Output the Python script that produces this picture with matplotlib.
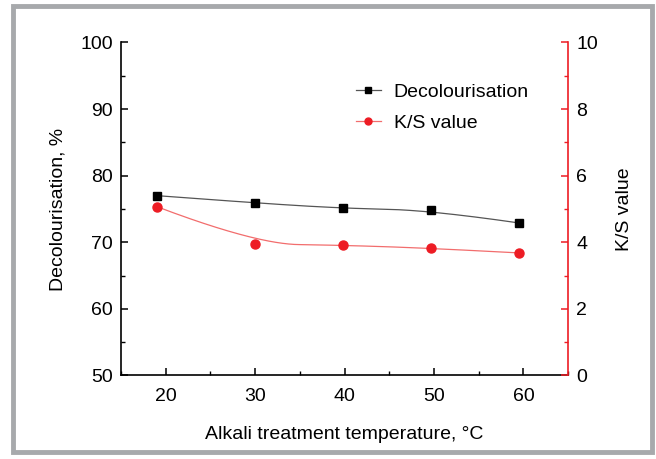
import numpy as np
import matplotlib.pyplot as plt
from matplotlib.patches import Rectangle
from matplotlib.ticker import MultipleLocator

plt.rcParams['font.family'] = ['Liberation Sans', 'DejaVu Sans']

# data
temperature = [19, 30, 39.8, 49.7, 59.5]
decolourisation = [77.0, 75.9, 75.1, 74.8, 72.9]
ks_value = [5.07, 3.95, 3.91, 3.82, 3.68]

RED = '#ed1c24'
FS = 14


def bspline(xs, ys, k=2, n=200):
    """clamped B-spline using the points as control points"""
    P = np.column_stack([xs, ys]).astype(float)
    m = len(P)
    inner = np.arange(1, m - k)
    knots = np.concatenate([[0] * (k + 1), inner, [m - k] * (k + 1)]).astype(float)
    t = np.linspace(0, m - k, n)
    t[-1] -= 1e-9
    out = []
    for tt in t:
        j = np.searchsorted(knots, tt, side='right') - 1
        d = [P[j - k + i].copy() for i in range(k + 1)]
        for r in range(1, k + 1):
            for i in range(k, r - 1, -1):
                a = (tt - knots[i + j - k]) / (knots[i + 1 + j - r] - knots[i + j - k])
                d[i] = (1 - a) * d[i - 1] + a * d[i]
        out.append(d[k])
    out = np.array(out)
    return out[:, 0], out[:, 1]


fig = plt.figure(figsize=(6.56, 4.59), dpi=100)
ax = fig.add_axes([0.1845, 0.182, 0.6815, 0.7255])
ax2 = ax.twinx()

sx, sy = bspline(temperature, decolourisation)
ax.plot(sx, sy, color='#555555', linewidth=0.9, zorder=2)
ax.plot(temperature, decolourisation, 's', color='black', markersize=6, zorder=3)

kx, ky = bspline(temperature, ks_value)
ax2.plot(kx, ky, color='#f26d6d', linewidth=0.9, zorder=2)
ax2.plot(temperature, ks_value, 'o', color=RED, markersize=6.5, zorder=3)

ax.set_xlim(15, 65)
ax.set_ylim(50, 100)
ax2.set_ylim(0, 10)

ax.xaxis.set_major_locator(MultipleLocator(10))
ax.xaxis.set_minor_locator(MultipleLocator(5))
ax.yaxis.set_major_locator(MultipleLocator(10))
ax.yaxis.set_minor_locator(MultipleLocator(5))
ax2.yaxis.set_major_locator(MultipleLocator(2))
ax2.yaxis.set_minor_locator(MultipleLocator(1))

ax.spines['top'].set_visible(False)
ax2.spines['top'].set_visible(False)
ax2.spines['left'].set_visible(False)
ax2.spines['bottom'].set_visible(False)
ax.spines['right'].set_visible(False)
ax2.spines['right'].set_color(RED)
for s in ['left', 'bottom']:
    ax.spines[s].set_linewidth(1.2)
ax2.spines['right'].set_linewidth(1.2)

ax.tick_params(which='major', direction='in', length=5, width=1.1, labelsize=FS, pad=6)
ax.tick_params(axis='x', which='major', pad=9)
ax.tick_params(which='minor', direction='in', length=3, width=1.0)
ax2.tick_params(which='major', direction='in', length=5, width=1.1, color=RED,
                labelsize=FS, pad=6)
ax2.tick_params(which='minor', direction='in', length=3, width=1.0, color=RED)

ax.set_xlabel('Alkali treatment temperature, °C', fontsize=FS, labelpad=15)
ax.set_ylabel('Decolourisation, %', fontsize=FS, labelpad=10)
ax2.set_ylabel('K/S value', fontsize=FS, labelpad=13)

h1 = plt.Line2D([], [], color='#555555', linewidth=0.9, marker='s', markersize=5,
                markerfacecolor='black', markeredgecolor='black')
h2 = plt.Line2D([], [], color='#f26d6d', linewidth=0.9, marker='o', markersize=5,
                markerfacecolor=RED, markeredgecolor=RED)
ax2.legend([h1, h2], ['Decolourisation', 'K/S value'], loc='upper left',
           bbox_to_anchor=(0.486, 0.93), frameon=False, fontsize=FS,
           handlelength=1.3, handletextpad=0.65, labelspacing=0.7)

# grey frame around the whole figure
fig.patches.append(Rectangle((13 / 656, 1 - 452 / 459), 639 / 656, 446 / 459,
                             transform=fig.transFigure, fill=False,
                             edgecolor='#a7a9ac', linewidth=3.5))

fig.savefig('out.png', dpi=100)
